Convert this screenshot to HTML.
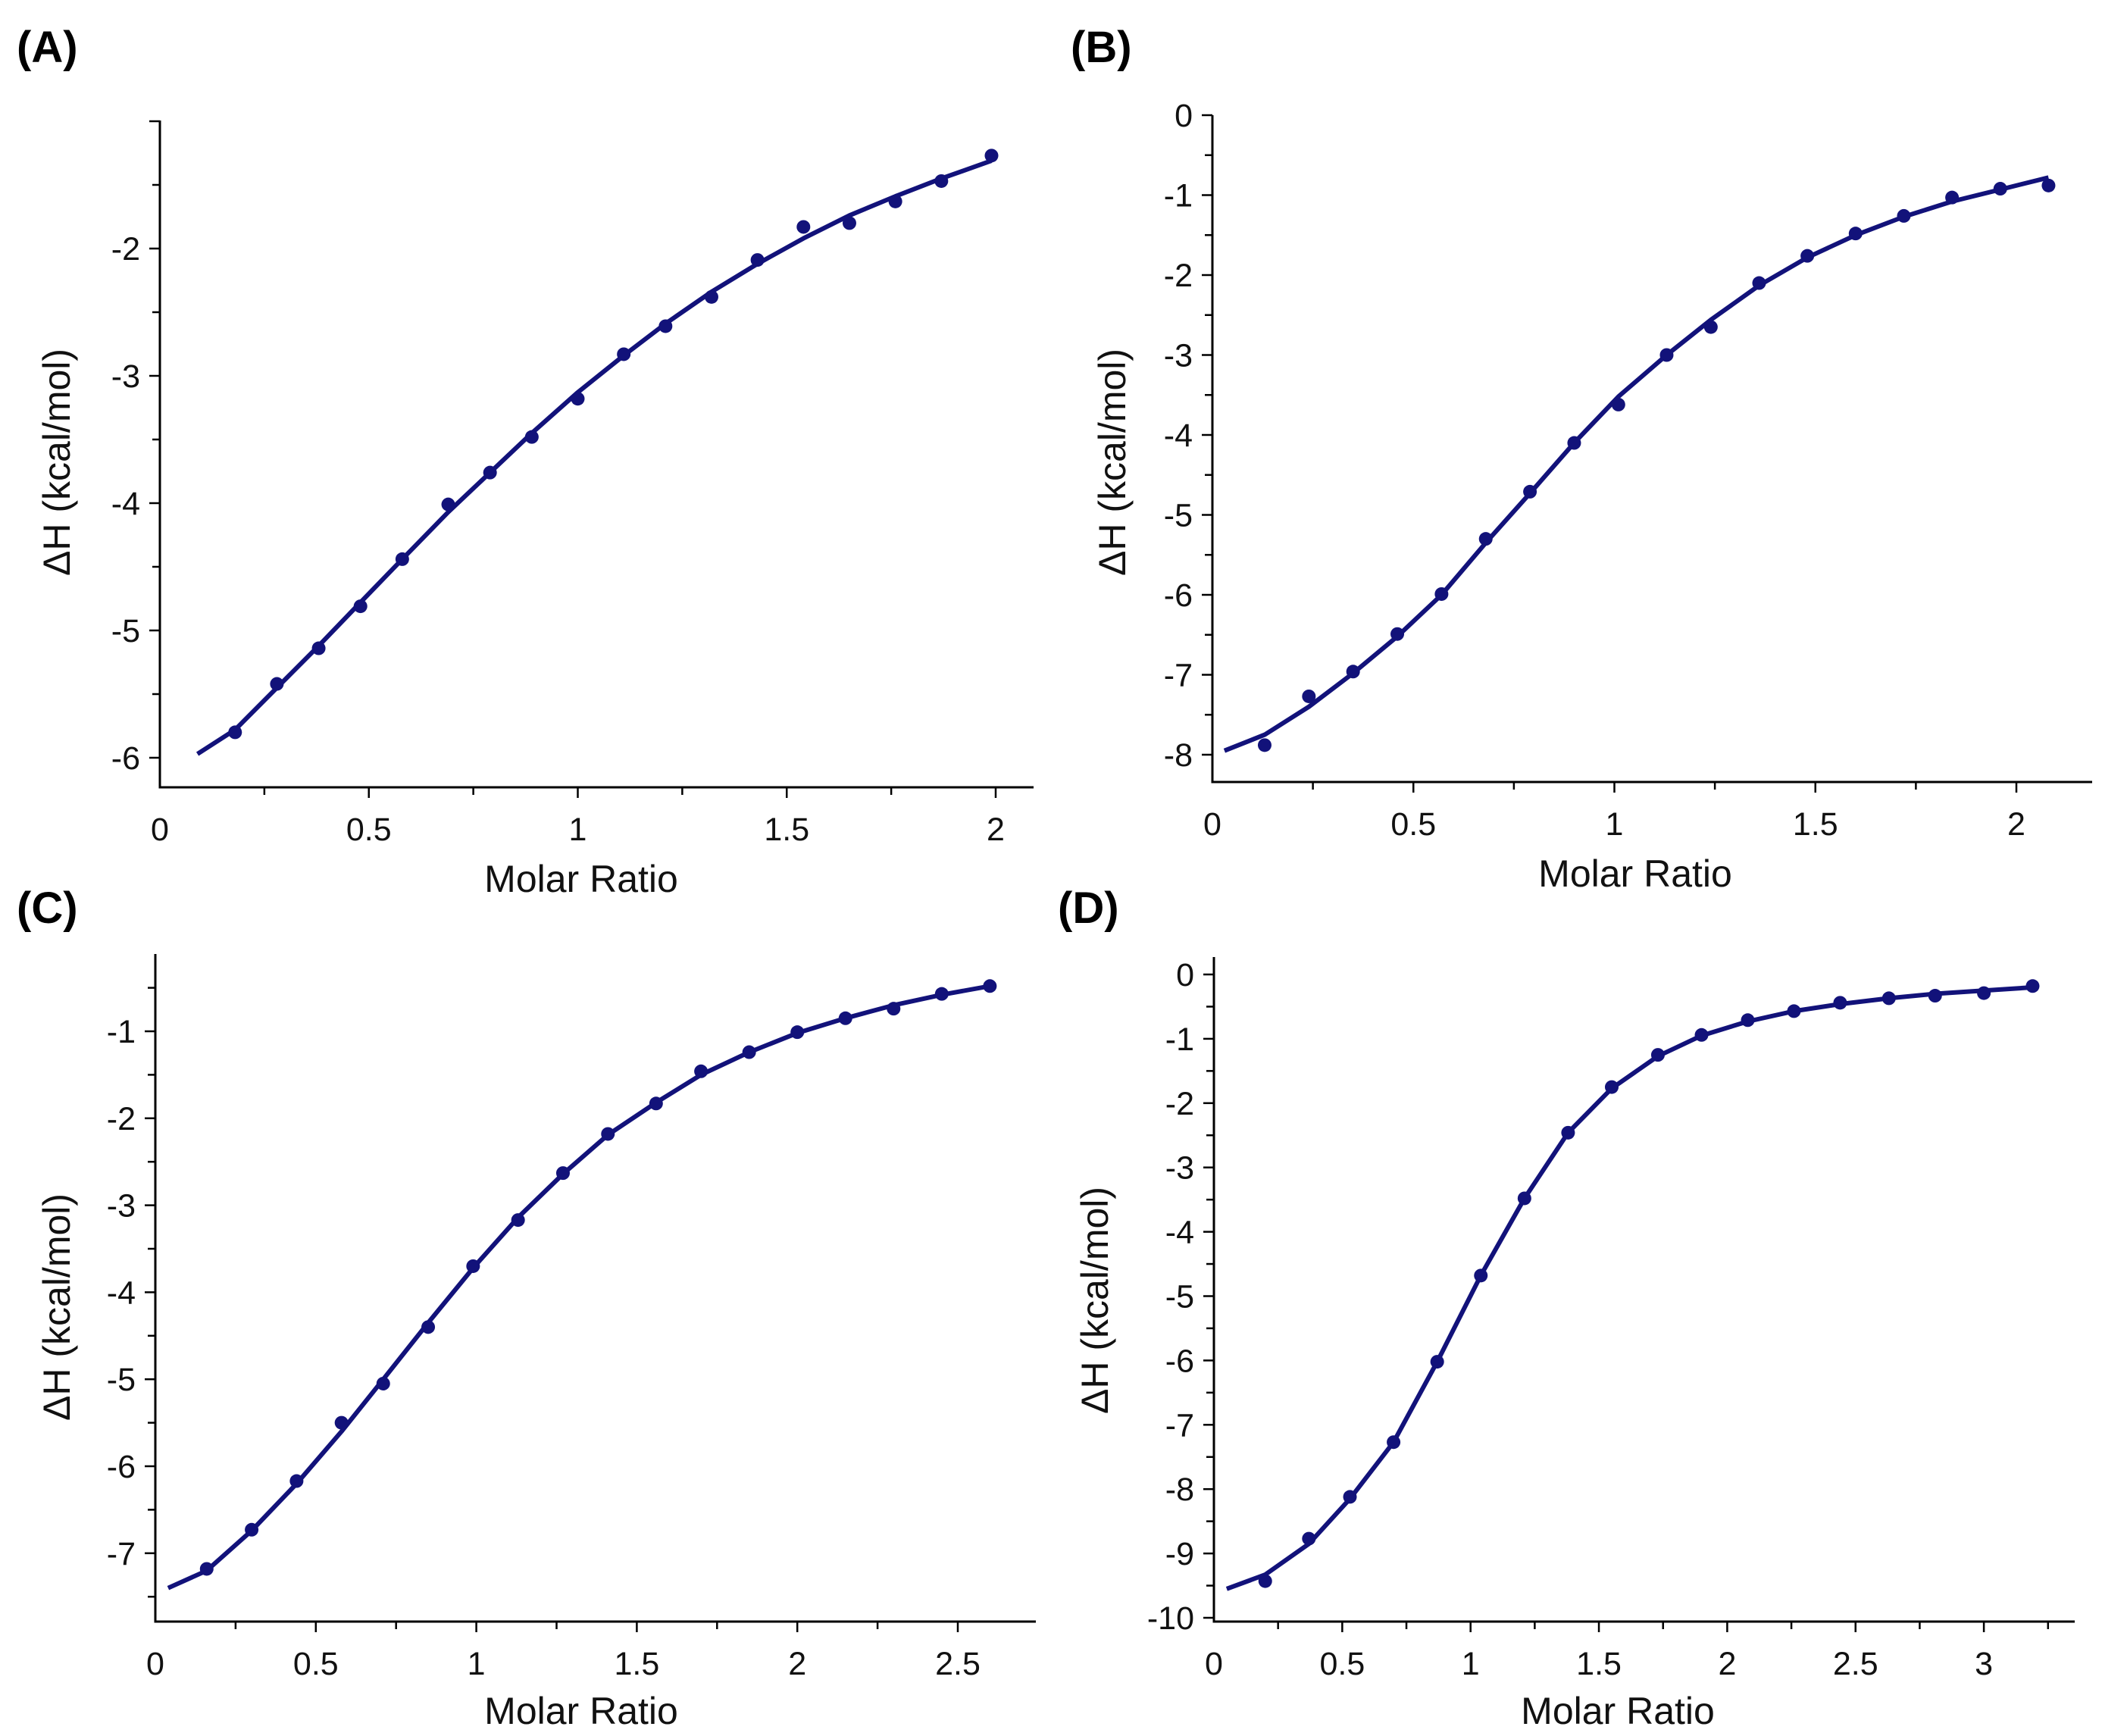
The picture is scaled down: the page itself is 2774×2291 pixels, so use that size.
<!DOCTYPE html>
<html><head><meta charset="utf-8"><style>
html,body{margin:0;padding:0;background:#fff;}
svg{display:block;font-family:"Liberation Sans",sans-serif;}
</style></head><body>
<svg id="fig" width="2774" height="2291" viewBox="0 0 2774 2291" xmlns="http://www.w3.org/2000/svg"></svg>
<script>
// Panel A
const aPtsX = [0.18,0.28,0.38,0.48,0.58,0.69,0.79,0.89,1.0,1.11,1.21,1.32,1.43,1.54,1.65,1.76,1.87,1.99];
const aPtsY = [-5.8,-5.42,-5.14,-4.81,-4.44,-4.01,-3.76,-3.48,-3.18,-2.83,-2.61,-2.38,-2.09,-1.83,-1.8,-1.63,-1.47,-1.27];
const aFitX = [0.09,0.18,0.28,0.38,0.48,0.58,0.69,0.79,0.89,1.0,1.11,1.21,1.32,1.43,1.54,1.65,1.76,1.87,1.99];
const aFitY = [-5.97,-5.78,-5.45,-5.12,-4.78,-4.44,-4.07,-3.76,-3.45,-3.13,-2.84,-2.59,-2.34,-2.12,-1.92,-1.74,-1.59,-1.45,-1.31];
const aXTicks = ["0","0.5","1","1.5","2"];
const aYTicks = ["-2","-3","-4","-5","-6"];
// Panel B
const bPtsX = [0.13,0.24,0.35,0.46,0.57,0.68,0.79,0.9,1.01,1.13,1.24,1.36,1.48,1.6,1.72,1.84,1.96,2.08];
const bPtsY = [-7.88,-7.27,-6.96,-6.49,-5.99,-5.3,-4.71,-4.1,-3.62,-3.0,-2.65,-2.1,-1.76,-1.48,-1.26,-1.03,-0.92,-0.88];
const bFitX = [0.03,0.13,0.24,0.35,0.46,0.57,0.68,0.79,0.9,1.01,1.13,1.24,1.36,1.48,1.6,1.72,1.84,1.96,2.08];
const bFitY = [-7.95,-7.75,-7.4,-6.98,-6.52,-6.0,-5.35,-4.73,-4.1,-3.52,-3.0,-2.56,-2.13,-1.78,-1.5,-1.27,-1.08,-0.93,-0.78];
const bXTicks = ["0","0.5","1","1.5","2"];
const bYTicks = ["0","-1","-2","-3","-4","-5","-6","-7","-8"];
// Panel C
const cPtsX = [0.16,0.3,0.44,0.58,0.71,0.85,0.99,1.13,1.27,1.41,1.56,1.7,1.85,2.0,2.15,2.3,2.45,2.6];
const cPtsY = [-7.18,-6.73,-6.17,-5.5,-5.05,-4.4,-3.7,-3.17,-2.63,-2.18,-1.83,-1.46,-1.24,-1.01,-0.85,-0.74,-0.57,-0.48];
const cFitX = [0.04,0.16,0.3,0.44,0.58,0.71,0.85,0.99,1.13,1.27,1.41,1.56,1.7,1.85,2.0,2.15,2.3,2.45,2.6];
const cFitY = [-7.4,-7.2,-6.74,-6.2,-5.6,-5.0,-4.35,-3.72,-3.14,-2.64,-2.19,-1.82,-1.5,-1.24,-1.02,-0.85,-0.7,-0.58,-0.48];
const cXTicks = ["0","0.5","1","1.5","2","2.5"];
const cYTicks = ["-1","-2","-3","-4","-5","-6","-7"];
// Panel D
const dPtsX = [0.2,0.37,0.53,0.7,0.87,1.04,1.21,1.38,1.55,1.73,1.9,2.08,2.26,2.44,2.63,2.81,3.0,3.19];
const dPtsY = [-9.43,-8.77,-8.12,-7.27,-6.02,-4.68,-3.48,-2.46,-1.75,-1.25,-0.94,-0.71,-0.57,-0.44,-0.37,-0.33,-0.29,-0.18];
const dFitX = [0.05,0.2,0.37,0.53,0.7,0.87,1.04,1.21,1.38,1.55,1.73,1.9,2.08,2.26,2.44,2.63,2.81,3.0,3.19];
const dFitY = [-9.55,-9.33,-8.85,-8.15,-7.27,-6.02,-4.68,-3.48,-2.46,-1.77,-1.27,-0.95,-0.73,-0.57,-0.46,-0.37,-0.3,-0.25,-0.2];
const dXTicks = ["0","0.5","1","1.5","2","2.5","3"];
const dYTicks = ["0","-1","-2","-3","-4","-5","-6","-7","-8","-9","-10"];

const NS = "http://www.w3.org/2000/svg";
const svg = document.getElementById('fig');
const COL = "#12127a";
function mk(tag, attrs, parent){
  const e = document.createElementNS(NS, tag);
  for (const k in attrs) e.setAttribute(k, attrs[k]);
  parent.appendChild(e);
  return e;
}
function panel(cfg){
  const g = mk('g', {}, svg);
  
  
  const sx = v => cfg.ox + (v) * cfg.ux;
  const sy = v => cfg.y0 - (v - cfg.v0) * cfg.uy;
  const yTop = cfg.top, yBot = cfg.axisY, xRight = cfg.right;
  const ya = mk('line', {x1:cfg.ox, y1:yTop, x2:cfg.ox, y2:yBot, stroke:'#000','stroke-width':3}, g);
  
  
  const xa = mk('line', {x1:cfg.ox-1.5, y1:yBot, x2:xRight, y2:yBot, stroke:'#000','stroke-width':3}, g);
  
  
  const xMax = (xRight - cfg.ox) / cfg.ux;
  for (let i = 1; i * 0.25 <= xMax + 1e-6; i++){
    const v = i * 0.25, major = i % 2 === 0;
    mk('line', {x1:sx(v), y1:yBot, x2:sx(v), y2:yBot + (major?14:10), stroke:'#000','stroke-width':2.5}, g);
  }
  cfg.xTicks.forEach((lab, i) => {
    const v = parseFloat(lab);
    const t = mk('text', {x:sx(v), y:yBot + 70, 'font-size':43, 'text-anchor':'middle', fill:'#111'}, g);
    t.textContent = lab;
    
    
  });
  const vTop = cfg.v0 + (cfg.y0 - yTop) / cfg.uy;
  const vBot = cfg.v0 - (yBot - cfg.y0) / cfg.uy;
  for (let k = Math.ceil(vBot * 2); k <= Math.floor(vTop * 2 + 1e-6); k++){
    const v = k / 2, major = k % 2 === 0;
    mk('line', {x1:cfg.ox, y1:sy(v), x2:cfg.ox - (major?14:10), y2:sy(v), stroke:'#000','stroke-width':2.5}, g);
  }
  cfg.yTicks.forEach(lab => {
    const v = parseFloat(lab);
    const t = mk('text', {x:cfg.ox - 26, y:sy(v) + 15, 'font-size':43, 'text-anchor':'end', fill:'#111'}, g);
    t.textContent = lab;
    
    
  });
  const xt = mk('text', {x:cfg.xtX, y:cfg.xtY, 'font-size':50, 'text-anchor':'middle', fill:'#111'}, g);
  xt.textContent = 'Molar Ratio';
  
  
  const yt = mk('text', {x:0, y:0, 'font-size':50, 'text-anchor':'middle', fill:'#111', transform:`translate(${cfg.ytX},${cfg.ytY}) rotate(-90)`}, g);
  yt.textContent = 'ΔH (kcal/mol)';
  
  
  const pl = mk('text', {x:cfg.lx, y:cfg.ly, 'font-size':58, 'font-weight':'bold', fill:'#000'}, g);
  pl.textContent = '(' + cfg.id + ')';
  
  
  const d = cfg.fx.map((x, i) => (i ? 'L' : 'M') + sx(x).toFixed(1) + ' ' + sy(cfg.fy[i]).toFixed(1)).join(' ');
  const p = mk('path', {d:d, fill:'none', stroke:COL, 'stroke-width':6, 'stroke-linejoin':'round'}, g);
  
  
  cfg.px.forEach((x, i) => {
    const c = mk('circle', {cx:sx(x), cy:sy(cfg.py[i]), r:9, fill:COL}, g);
    
    
  });
}
panel({id:'A', ox:211, ux:551.5, v0:-2, y0:328, uy:168, top:159, axisY:1039, right:1364,
  xTicks:aXTicks, yTicks:aYTicks, px:aPtsX, py:aPtsY, fx:aFitX, fy:aFitY,
  xtX:767, xtY:1177, ytX:92, ytY:610, lx:22, ly:82});
panel({id:'B', ox:1600, ux:530.5, v0:0, y0:152, uy:105.5, top:152, axisY:1032, right:2761,
  xTicks:bXTicks, yTicks:bYTicks, px:bPtsX, py:bPtsY, fx:bFitX, fy:bFitY,
  xtX:2158, xtY:1170, ytX:1485, ytY:610, lx:1413, ly:82});
panel({id:'C', ox:205, ux:423.6, v0:-1, y0:1361, uy:114.8, top:1259, axisY:2140, right:1367,
  xTicks:cXTicks, yTicks:cYTicks, px:cPtsX, py:cPtsY, fx:cFitX, fy:cFitY,
  xtX:767, xtY:2275, ytX:92, ytY:1725, lx:22, ly:1218});
panel({id:'D', ox:1602, ux:338.7, v0:0, y0:1286, uy:84.9, top:1263, axisY:2140, right:2738,
  xTicks:dXTicks, yTicks:dYTicks, px:dPtsX, py:dPtsY, fx:dFitX, fy:dFitY,
  xtX:2135, xtY:2275, ytX:1462, ytY:1716, lx:1396, ly:1218});
</script>
</body></html>
